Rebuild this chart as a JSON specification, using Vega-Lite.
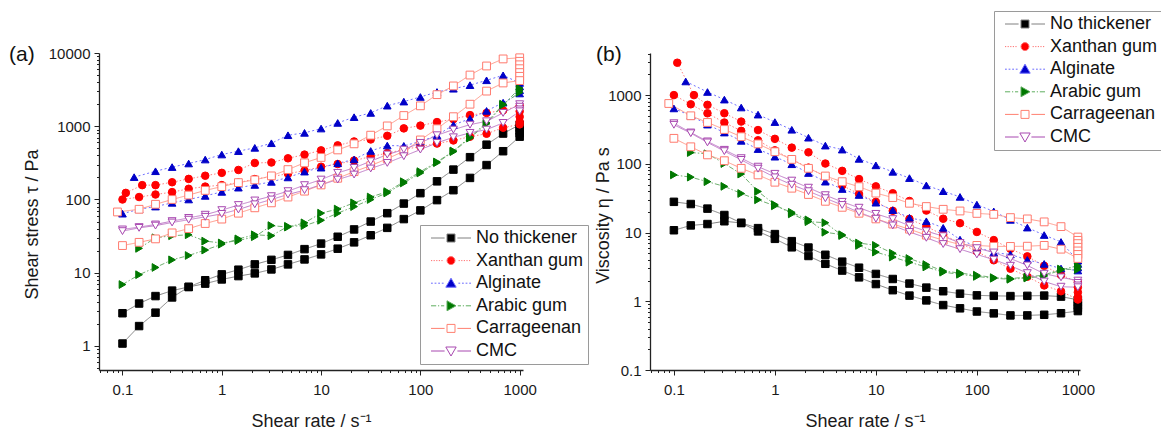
{
  "$schema": "https://vega.github.io/schema/vega-lite/v6.json",
  "background": "#ffffff",
  "padding": {"left": 9, "top": 10, "right": 2, "bottom": 2},
  "data": {"values": [
    {"s":"No thickener","r":1,"x":0.1,"t":2.8,"v":28},
    {"s":"No thickener","r":1,"x":0.147,"t":3.8,"v":26},
    {"s":"No thickener","r":1,"x":0.215,"t":4.8,"v":22.3},
    {"s":"No thickener","r":1,"x":0.316,"t":5.7,"v":18},
    {"s":"No thickener","r":1,"x":0.464,"t":6.4,"v":13.8},
    {"s":"No thickener","r":1,"x":0.681,"t":7.9,"v":11.6},
    {"s":"No thickener","r":1,"x":1,"t":9.5,"v":9.5},
    {"s":"No thickener","r":1,"x":1.47,"t":11,"v":7.5},
    {"s":"No thickener","r":1,"x":2.15,"t":13,"v":6.05},
    {"s":"No thickener","r":1,"x":3.16,"t":15,"v":4.75},
    {"s":"No thickener","r":1,"x":4.64,"t":17.5,"v":3.77},
    {"s":"No thickener","r":1,"x":6.81,"t":21,"v":3.08},
    {"s":"No thickener","r":1,"x":10,"t":25,"v":2.5},
    {"s":"No thickener","r":1,"x":14.7,"t":31,"v":2.11},
    {"s":"No thickener","r":1,"x":21.5,"t":39,"v":1.81},
    {"s":"No thickener","r":1,"x":31.6,"t":50,"v":1.58},
    {"s":"No thickener","r":1,"x":46.4,"t":65,"v":1.4},
    {"s":"No thickener","r":1,"x":68.1,"t":88,"v":1.29},
    {"s":"No thickener","r":1,"x":100,"t":122,"v":1.22},
    {"s":"No thickener","r":1,"x":147,"t":177,"v":1.2},
    {"s":"No thickener","r":1,"x":215,"t":256,"v":1.19},
    {"s":"No thickener","r":1,"x":316,"t":378,"v":1.2},
    {"s":"No thickener","r":1,"x":464,"t":560,"v":1.21},
    {"s":"No thickener","r":1,"x":681,"t":795,"v":1.17},
    {"s":"No thickener","r":1,"x":1000,"t":1050,"v":1.05},
    {"s":"No thickener","r":1,"x":1000,"t":950,"v":0.95},
    {"s":"No thickener","r":1,"x":1000,"t":870,"v":0.87},
    {"s":"No thickener","r":1,"x":1000,"t":800,"v":0.8},
    {"s":"No thickener","r":2,"x":1000,"t":720,"v":0.72},
    {"s":"No thickener","r":2,"x":681,"t":456,"v":0.67},
    {"s":"No thickener","r":2,"x":464,"t":295,"v":0.636},
    {"s":"No thickener","r":2,"x":316,"t":197,"v":0.623},
    {"s":"No thickener","r":2,"x":215,"t":134,"v":0.623},
    {"s":"No thickener","r":2,"x":147,"t":98,"v":0.667},
    {"s":"No thickener","r":2,"x":100,"t":71,"v":0.71},
    {"s":"No thickener","r":2,"x":68.1,"t":54,"v":0.79},
    {"s":"No thickener","r":2,"x":46.4,"t":41,"v":0.88},
    {"s":"No thickener","r":2,"x":31.6,"t":32.5,"v":1.03},
    {"s":"No thickener","r":2,"x":21.5,"t":26,"v":1.21},
    {"s":"No thickener","r":2,"x":14.7,"t":21.3,"v":1.45},
    {"s":"No thickener","r":2,"x":10,"t":17.8,"v":1.78},
    {"s":"No thickener","r":2,"x":6.81,"t":15.2,"v":2.23},
    {"s":"No thickener","r":2,"x":4.64,"t":13,"v":2.8},
    {"s":"No thickener","r":2,"x":3.16,"t":11.1,"v":3.51},
    {"s":"No thickener","r":2,"x":2.15,"t":9.8,"v":4.56},
    {"s":"No thickener","r":2,"x":1.47,"t":9,"v":6.1},
    {"s":"No thickener","r":2,"x":1,"t":8.1,"v":8.1},
    {"s":"No thickener","r":2,"x":0.681,"t":7.1,"v":10.4},
    {"s":"No thickener","r":2,"x":0.464,"t":6.4,"v":13.8},
    {"s":"No thickener","r":2,"x":0.316,"t":4.6,"v":14.6},
    {"s":"No thickener","r":2,"x":0.215,"t":2.85,"v":13.3},
    {"s":"No thickener","r":2,"x":0.147,"t":1.87,"v":12.7},
    {"s":"No thickener","r":2,"x":0.1,"t":1.08,"v":10.8},

    {"s":"Xanthan gum","r":1,"x":0.108,"t":123,"v":2960},
    {"s":"Xanthan gum","r":1,"x":0.158,"t":157,"v":1000},
    {"s":"Xanthan gum","r":1,"x":0.215,"t":157,"v":722},
    {"s":"Xanthan gum","r":1,"x":0.316,"t":172,"v":545},
    {"s":"Xanthan gum","r":1,"x":0.464,"t":191,"v":412},
    {"s":"Xanthan gum","r":1,"x":0.681,"t":211,"v":310},
    {"s":"Xanthan gum","r":1,"x":1,"t":231,"v":231},
    {"s":"Xanthan gum","r":1,"x":1.47,"t":253,"v":172},
    {"s":"Xanthan gum","r":1,"x":2.15,"t":315,"v":147},
    {"s":"Xanthan gum","r":1,"x":3.16,"t":320,"v":101},
    {"s":"Xanthan gum","r":1,"x":4.64,"t":365,"v":79},
    {"s":"Xanthan gum","r":1,"x":6.81,"t":410,"v":60},
    {"s":"Xanthan gum","r":1,"x":10,"t":468,"v":47},
    {"s":"Xanthan gum","r":1,"x":14.7,"t":548,"v":37.3},
    {"s":"Xanthan gum","r":1,"x":21.5,"t":620,"v":28.8},
    {"s":"Xanthan gum","r":1,"x":31.6,"t":660,"v":20.9},
    {"s":"Xanthan gum","r":1,"x":46.4,"t":740,"v":15.9},
    {"s":"Xanthan gum","r":1,"x":68.1,"t":935,"v":13.7},
    {"s":"Xanthan gum","r":1,"x":100,"t":1020,"v":10.2},
    {"s":"Xanthan gum","r":1,"x":147,"t":1140,"v":7.76},
    {"s":"Xanthan gum","r":1,"x":215,"t":1250,"v":5.8},
    {"s":"Xanthan gum","r":1,"x":316,"t":1420,"v":4.5},
    {"s":"Xanthan gum","r":1,"x":464,"t":1520,"v":3.28},
    {"s":"Xanthan gum","r":1,"x":681,"t":1650,"v":2.42},
    {"s":"Xanthan gum","r":1,"x":1000,"t":1900,"v":1.9},
    {"s":"Xanthan gum","r":1,"x":1000,"t":1600,"v":1.6},
    {"s":"Xanthan gum","r":1,"x":1000,"t":1350,"v":1.35},
    {"s":"Xanthan gum","r":1,"x":1000,"t":1150,"v":1.15},
    {"s":"Xanthan gum","r":2,"x":1000,"t":1060,"v":1.06},
    {"s":"Xanthan gum","r":2,"x":681,"t":955,"v":1.4},
    {"s":"Xanthan gum","r":2,"x":464,"t":790,"v":1.7},
    {"s":"Xanthan gum","r":2,"x":316,"t":720,"v":2.28},
    {"s":"Xanthan gum","r":2,"x":215,"t":640,"v":2.98},
    {"s":"Xanthan gum","r":2,"x":147,"t":580,"v":3.95},
    {"s":"Xanthan gum","r":2,"x":100,"t":530,"v":5.3},
    {"s":"Xanthan gum","r":2,"x":68.1,"t":480,"v":7.05},
    {"s":"Xanthan gum","r":2,"x":46.4,"t":430,"v":9.3},
    {"s":"Xanthan gum","r":2,"x":31.6,"t":385,"v":12.2},
    {"s":"Xanthan gum","r":2,"x":21.5,"t":340,"v":15.8},
    {"s":"Xanthan gum","r":2,"x":14.7,"t":305,"v":20.7},
    {"s":"Xanthan gum","r":2,"x":10,"t":280,"v":28},
    {"s":"Xanthan gum","r":2,"x":6.81,"t":248,"v":36.4},
    {"s":"Xanthan gum","r":2,"x":4.64,"t":225,"v":48.5},
    {"s":"Xanthan gum","r":2,"x":3.16,"t":205,"v":65},
    {"s":"Xanthan gum","r":2,"x":2.15,"t":190,"v":88},
    {"s":"Xanthan gum","r":2,"x":1.47,"t":170,"v":116},
    {"s":"Xanthan gum","r":2,"x":1,"t":157,"v":157},
    {"s":"Xanthan gum","r":2,"x":0.681,"t":150,"v":220},
    {"s":"Xanthan gum","r":2,"x":0.464,"t":140,"v":302},
    {"s":"Xanthan gum","r":2,"x":0.316,"t":126,"v":399},
    {"s":"Xanthan gum","r":2,"x":0.215,"t":117,"v":544},
    {"s":"Xanthan gum","r":2,"x":0.147,"t":108,"v":735},
    {"s":"Xanthan gum","r":2,"x":0.1,"t":100,"v":1000},

    {"s":"Alginate","r":1,"x":0.131,"t":202,"v":1580},
    {"s":"Alginate","r":1,"x":0.215,"t":243,"v":1110},
    {"s":"Alginate","r":1,"x":0.316,"t":277,"v":860},
    {"s":"Alginate","r":1,"x":0.464,"t":310,"v":660},
    {"s":"Alginate","r":1,"x":0.681,"t":351,"v":520},
    {"s":"Alginate","r":1,"x":1,"t":411,"v":405},
    {"s":"Alginate","r":1,"x":1.47,"t":457,"v":313},
    {"s":"Alginate","r":1,"x":2.15,"t":507,"v":240},
    {"s":"Alginate","r":1,"x":3.16,"t":586,"v":184},
    {"s":"Alginate","r":1,"x":4.64,"t":754,"v":161},
    {"s":"Alginate","r":1,"x":6.81,"t":812,"v":118},
    {"s":"Alginate","r":1,"x":10,"t":930,"v":95},
    {"s":"Alginate","r":1,"x":14.7,"t":1110,"v":76.5},
    {"s":"Alginate","r":1,"x":21.5,"t":1330,"v":62},
    {"s":"Alginate","r":1,"x":31.6,"t":1520,"v":48.5},
    {"s":"Alginate","r":1,"x":46.4,"t":1910,"v":40},
    {"s":"Alginate","r":1,"x":68.1,"t":2170,"v":33},
    {"s":"Alginate","r":1,"x":100,"t":2510,"v":25.5},
    {"s":"Alginate","r":1,"x":147,"t":2940,"v":20.3},
    {"s":"Alginate","r":1,"x":215,"t":3250,"v":15.3},
    {"s":"Alginate","r":1,"x":316,"t":3640,"v":11.8},
    {"s":"Alginate","r":1,"x":464,"t":4240,"v":9.2},
    {"s":"Alginate","r":1,"x":681,"t":4960,"v":7.3},
    {"s":"Alginate","r":1,"x":1000,"t":3900,"v":3.9},
    {"s":"Alginate","r":1,"x":1000,"t":3500,"v":3.5},
    {"s":"Alginate","r":1,"x":1000,"t":3100,"v":3.1},
    {"s":"Alginate","r":2,"x":1000,"t":2800,"v":2.8},
    {"s":"Alginate","r":2,"x":681,"t":2100,"v":3.0},
    {"s":"Alginate","r":2,"x":464,"t":1620,"v":3.5},
    {"s":"Alginate","r":2,"x":316,"t":1270,"v":4.0},
    {"s":"Alginate","r":2,"x":215,"t":1040,"v":4.8},
    {"s":"Alginate","r":2,"x":147,"t":750,"v":5.1},
    {"s":"Alginate","r":2,"x":100,"t":620,"v":6.2},
    {"s":"Alginate","r":2,"x":68.1,"t":540,"v":7.9},
    {"s":"Alginate","r":2,"x":46.4,"t":545,"v":11.7},
    {"s":"Alginate","r":2,"x":31.6,"t":460,"v":14.6},
    {"s":"Alginate","r":2,"x":21.5,"t":352,"v":16.4},
    {"s":"Alginate","r":2,"x":14.7,"t":312,"v":21.2},
    {"s":"Alginate","r":2,"x":10,"t":272,"v":27.2},
    {"s":"Alginate","r":2,"x":6.81,"t":240,"v":35.2},
    {"s":"Alginate","r":2,"x":4.64,"t":200,"v":43},
    {"s":"Alginate","r":2,"x":3.16,"t":174,"v":55},
    {"s":"Alginate","r":2,"x":2.15,"t":158,"v":73.5},
    {"s":"Alginate","r":2,"x":1.47,"t":145,"v":98.6},
    {"s":"Alginate","r":2,"x":1,"t":127,"v":127},
    {"s":"Alginate","r":2,"x":0.681,"t":112,"v":164},
    {"s":"Alginate","r":2,"x":0.464,"t":100,"v":216},
    {"s":"Alginate","r":2,"x":0.316,"t":90,"v":285},
    {"s":"Alginate","r":2,"x":0.215,"t":80,"v":372},
    {"s":"Alginate","r":2,"x":0.147,"t":73.5,"v":500},
    {"s":"Alginate","r":2,"x":0.1,"t":64,"v":640},

    {"s":"Arabic gum","r":1,"x":0.1,"t":6.9,"v":69},
    {"s":"Arabic gum","r":1,"x":0.147,"t":9.4,"v":64},
    {"s":"Arabic gum","r":1,"x":0.215,"t":11.8,"v":55},
    {"s":"Arabic gum","r":1,"x":0.316,"t":15,"v":47},
    {"s":"Arabic gum","r":1,"x":0.464,"t":17.2,"v":37},
    {"s":"Arabic gum","r":1,"x":0.681,"t":20.4,"v":30},
    {"s":"Arabic gum","r":1,"x":1,"t":24.5,"v":24.5},
    {"s":"Arabic gum","r":1,"x":1.47,"t":29,"v":19.7},
    {"s":"Arabic gum","r":1,"x":2.15,"t":33,"v":15.3},
    {"s":"Arabic gum","r":1,"x":3.16,"t":32,"v":10.1},
    {"s":"Arabic gum","r":1,"x":4.64,"t":43,"v":9.3},
    {"s":"Arabic gum","r":1,"x":6.81,"t":44,"v":6.5},
    {"s":"Arabic gum","r":1,"x":10,"t":52,"v":5.2},
    {"s":"Arabic gum","r":1,"x":14.7,"t":65,"v":4.4},
    {"s":"Arabic gum","r":1,"x":21.5,"t":80,"v":3.7},
    {"s":"Arabic gum","r":1,"x":31.6,"t":100,"v":3.16},
    {"s":"Arabic gum","r":1,"x":46.4,"t":123,"v":2.65},
    {"s":"Arabic gum","r":1,"x":68.1,"t":168,"v":2.47},
    {"s":"Arabic gum","r":1,"x":100,"t":230,"v":2.3},
    {"s":"Arabic gum","r":1,"x":147,"t":318,"v":2.16},
    {"s":"Arabic gum","r":1,"x":215,"t":450,"v":2.09},
    {"s":"Arabic gum","r":1,"x":316,"t":690,"v":2.18},
    {"s":"Arabic gum","r":1,"x":464,"t":1080,"v":2.33},
    {"s":"Arabic gum","r":1,"x":681,"t":1950,"v":2.86},
    {"s":"Arabic gum","r":1,"x":1000,"t":3300,"v":3.3},
    {"s":"Arabic gum","r":1,"x":1000,"t":3100,"v":3.1},
    {"s":"Arabic gum","r":2,"x":1000,"t":2900,"v":2.9},
    {"s":"Arabic gum","r":2,"x":681,"t":2000,"v":2.94},
    {"s":"Arabic gum","r":2,"x":464,"t":1120,"v":2.41},
    {"s":"Arabic gum","r":2,"x":316,"t":712,"v":2.25},
    {"s":"Arabic gum","r":2,"x":215,"t":460,"v":2.14},
    {"s":"Arabic gum","r":2,"x":147,"t":325,"v":2.21},
    {"s":"Arabic gum","r":2,"x":100,"t":240,"v":2.4},
    {"s":"Arabic gum","r":2,"x":68.1,"t":175,"v":2.57},
    {"s":"Arabic gum","r":2,"x":46.4,"t":128,"v":2.76},
    {"s":"Arabic gum","r":2,"x":31.6,"t":108,"v":3.42},
    {"s":"Arabic gum","r":2,"x":21.5,"t":90,"v":4.19},
    {"s":"Arabic gum","r":2,"x":14.7,"t":74,"v":5.0},
    {"s":"Arabic gum","r":2,"x":10,"t":65,"v":6.5},
    {"s":"Arabic gum","r":2,"x":6.81,"t":48,"v":7.05},
    {"s":"Arabic gum","r":2,"x":4.64,"t":42,"v":9.05},
    {"s":"Arabic gum","r":2,"x":3.16,"t":44,"v":13.9},
    {"s":"Arabic gum","r":2,"x":2.15,"t":31,"v":14.4},
    {"s":"Arabic gum","r":2,"x":1.47,"t":27.5,"v":18.7},
    {"s":"Arabic gum","r":2,"x":1,"t":25.5,"v":25.5},
    {"s":"Arabic gum","r":2,"x":0.681,"t":27,"v":39.6},
    {"s":"Arabic gum","r":2,"x":0.464,"t":33,"v":71},
    {"s":"Arabic gum","r":2,"x":0.316,"t":32,"v":101},
    {"s":"Arabic gum","r":2,"x":0.215,"t":30,"v":140},
    {"s":"Arabic gum","r":2,"x":0.147,"t":21.5,"v":146},

    {"s":"Carrageenan","r":1,"x":0.089,"t":67.6,"v":755},
    {"s":"Carrageenan","r":1,"x":0.147,"t":73.5,"v":500},
    {"s":"Carrageenan","r":1,"x":0.215,"t":86,"v":400},
    {"s":"Carrageenan","r":1,"x":0.316,"t":100,"v":316},
    {"s":"Carrageenan","r":1,"x":0.464,"t":115,"v":248},
    {"s":"Carrageenan","r":1,"x":0.681,"t":133,"v":195},
    {"s":"Carrageenan","r":1,"x":1,"t":150,"v":150},
    {"s":"Carrageenan","r":1,"x":1.47,"t":170,"v":116},
    {"s":"Carrageenan","r":1,"x":2.15,"t":185,"v":86},
    {"s":"Carrageenan","r":1,"x":3.16,"t":210,"v":66.5},
    {"s":"Carrageenan","r":1,"x":4.64,"t":256,"v":55},
    {"s":"Carrageenan","r":1,"x":6.81,"t":317,"v":46.5},
    {"s":"Carrageenan","r":1,"x":10,"t":375,"v":37.5},
    {"s":"Carrageenan","r":1,"x":14.7,"t":475,"v":32.3},
    {"s":"Carrageenan","r":1,"x":21.5,"t":575,"v":26.7},
    {"s":"Carrageenan","r":1,"x":31.6,"t":755,"v":23.9},
    {"s":"Carrageenan","r":1,"x":46.4,"t":1010,"v":21.8},
    {"s":"Carrageenan","r":1,"x":68.1,"t":1400,"v":20.6},
    {"s":"Carrageenan","r":1,"x":100,"t":1900,"v":19},
    {"s":"Carrageenan","r":1,"x":147,"t":2700,"v":18.4},
    {"s":"Carrageenan","r":1,"x":215,"t":3550,"v":16.5},
    {"s":"Carrageenan","r":1,"x":316,"t":5000,"v":15.8},
    {"s":"Carrageenan","r":1,"x":464,"t":6650,"v":14.3},
    {"s":"Carrageenan","r":1,"x":681,"t":8300,"v":12.2},
    {"s":"Carrageenan","r":1,"x":1000,"t":8600,"v":8.6},
    {"s":"Carrageenan","r":1,"x":1000,"t":7700,"v":7.7},
    {"s":"Carrageenan","r":1,"x":1000,"t":6900,"v":6.9},
    {"s":"Carrageenan","r":1,"x":1000,"t":6100,"v":6.1},
    {"s":"Carrageenan","r":1,"x":1000,"t":5400,"v":5.4},
    {"s":"Carrageenan","r":1,"x":1000,"t":4800,"v":4.8},
    {"s":"Carrageenan","r":2,"x":1000,"t":4200,"v":4.2},
    {"s":"Carrageenan","r":2,"x":681,"t":3900,"v":5.73},
    {"s":"Carrageenan","r":2,"x":464,"t":3020,"v":6.5},
    {"s":"Carrageenan","r":2,"x":316,"t":2000,"v":6.33},
    {"s":"Carrageenan","r":2,"x":215,"t":1350,"v":6.28},
    {"s":"Carrageenan","r":2,"x":147,"t":925,"v":6.29},
    {"s":"Carrageenan","r":2,"x":100,"t":650,"v":6.5},
    {"s":"Carrageenan","r":2,"x":68.1,"t":456,"v":6.7},
    {"s":"Carrageenan","r":2,"x":46.4,"t":360,"v":7.76},
    {"s":"Carrageenan","r":2,"x":31.6,"t":290,"v":9.18},
    {"s":"Carrageenan","r":2,"x":21.5,"t":240,"v":11.2},
    {"s":"Carrageenan","r":2,"x":14.7,"t":195,"v":13.3},
    {"s":"Carrageenan","r":2,"x":10,"t":158,"v":15.8},
    {"s":"Carrageenan","r":2,"x":6.81,"t":130,"v":19.1},
    {"s":"Carrageenan","r":2,"x":4.64,"t":108,"v":23.3},
    {"s":"Carrageenan","r":2,"x":3.16,"t":90,"v":28.5},
    {"s":"Carrageenan","r":2,"x":2.15,"t":77,"v":35.8},
    {"s":"Carrageenan","r":2,"x":1.47,"t":65,"v":44.2},
    {"s":"Carrageenan","r":2,"x":1,"t":54,"v":54},
    {"s":"Carrageenan","r":2,"x":0.681,"t":47,"v":69},
    {"s":"Carrageenan","r":2,"x":0.464,"t":40,"v":86},
    {"s":"Carrageenan","r":2,"x":0.316,"t":35,"v":111},
    {"s":"Carrageenan","r":2,"x":0.215,"t":29,"v":135},
    {"s":"Carrageenan","r":2,"x":0.147,"t":26,"v":177},
    {"s":"Carrageenan","r":2,"x":0.1,"t":23.5,"v":235},

    {"s":"CMC","r":1,"x":0.1,"t":39,"v":390},
    {"s":"CMC","r":1,"x":0.147,"t":42,"v":286},
    {"s":"CMC","r":1,"x":0.215,"t":45.6,"v":212},
    {"s":"CMC","r":1,"x":0.316,"t":50.7,"v":160},
    {"s":"CMC","r":1,"x":0.464,"t":56,"v":121},
    {"s":"CMC","r":1,"x":0.681,"t":62,"v":91},
    {"s":"CMC","r":1,"x":1,"t":71.6,"v":71.6},
    {"s":"CMC","r":1,"x":1.47,"t":84,"v":57},
    {"s":"CMC","r":1,"x":2.15,"t":97,"v":45},
    {"s":"CMC","r":1,"x":3.16,"t":111,"v":35},
    {"s":"CMC","r":1,"x":4.64,"t":130,"v":28},
    {"s":"CMC","r":1,"x":6.81,"t":157,"v":23},
    {"s":"CMC","r":1,"x":10,"t":187,"v":18.7},
    {"s":"CMC","r":1,"x":14.7,"t":231,"v":15.7},
    {"s":"CMC","r":1,"x":21.5,"t":270,"v":12.6},
    {"s":"CMC","r":1,"x":31.6,"t":333,"v":10.5},
    {"s":"CMC","r":1,"x":46.4,"t":411,"v":8.86},
    {"s":"CMC","r":1,"x":68.1,"t":480,"v":7.05},
    {"s":"CMC","r":1,"x":100,"t":593,"v":5.93},
    {"s":"CMC","r":1,"x":147,"t":754,"v":5.13},
    {"s":"CMC","r":1,"x":215,"t":900,"v":4.19},
    {"s":"CMC","r":1,"x":316,"t":1050,"v":3.32},
    {"s":"CMC","r":1,"x":464,"t":1170,"v":2.52},
    {"s":"CMC","r":1,"x":681,"t":1520,"v":2.23},
    {"s":"CMC","r":1,"x":1000,"t":2000,"v":2.0},
    {"s":"CMC","r":1,"x":1000,"t":1850,"v":1.85},
    {"s":"CMC","r":1,"x":1000,"t":1700,"v":1.7},
    {"s":"CMC","r":2,"x":1000,"t":1600,"v":1.6},
    {"s":"CMC","r":2,"x":681,"t":1110,"v":1.63},
    {"s":"CMC","r":2,"x":464,"t":900,"v":1.94},
    {"s":"CMC","r":2,"x":316,"t":812,"v":2.57},
    {"s":"CMC","r":2,"x":215,"t":707,"v":3.29},
    {"s":"CMC","r":2,"x":147,"t":593,"v":4.03},
    {"s":"CMC","r":2,"x":100,"t":480,"v":4.8},
    {"s":"CMC","r":2,"x":68.1,"t":390,"v":5.73},
    {"s":"CMC","r":2,"x":46.4,"t":316,"v":6.81},
    {"s":"CMC","r":2,"x":31.6,"t":265,"v":8.39},
    {"s":"CMC","r":2,"x":21.5,"t":219,"v":10.2},
    {"s":"CMC","r":2,"x":14.7,"t":187,"v":12.7},
    {"s":"CMC","r":2,"x":10,"t":159,"v":15.9},
    {"s":"CMC","r":2,"x":6.81,"t":134,"v":19.7},
    {"s":"CMC","r":2,"x":4.64,"t":117,"v":25.2},
    {"s":"CMC","r":2,"x":3.16,"t":100,"v":31.6},
    {"s":"CMC","r":2,"x":2.15,"t":86,"v":40},
    {"s":"CMC","r":2,"x":1.47,"t":73,"v":49.7},
    {"s":"CMC","r":2,"x":1,"t":63.6,"v":63.6},
    {"s":"CMC","r":2,"x":0.681,"t":58,"v":85},
    {"s":"CMC","r":2,"x":0.464,"t":53,"v":114},
    {"s":"CMC","r":2,"x":0.316,"t":48.5,"v":153},
    {"s":"CMC","r":2,"x":0.215,"t":44,"v":205},
    {"s":"CMC","r":2,"x":0.147,"t":41,"v":279},
    {"s":"CMC","r":2,"x":0.1,"t":37,"v":370}
  ]},
  "spacing": 127,
  "bounds": "flush",
  "hconcat": [
    {
      "width": 424,
      "height": 317,
      "title": {"text": "(a)", "anchor": "start", "frame": "group", "align": "left", "baseline": "middle", "dx": -90, "dy": 30, "offset": 0, "fontSize": 21, "fontWeight": "normal", "color": "#111111"},
      "encoding": {
        "x": {"field": "x", "type": "quantitative",
          "scale": {"type": "log", "domain": [0.058, 1080]},
          "axis": {"title": "Shear rate / s⁻¹", "values": [0.06,0.07,0.08,0.09,0.1,0.2,0.3,0.4,0.5,0.6,0.7,0.8,0.9,1,2,3,4,5,6,7,8,9,10,20,30,40,50,60,70,80,90,100,200,300,400,500,600,700,800,900,1000],
            "format": "~g",
            "labelExpr": "indexof([0.1,1,10,100,1000,10000], datum.value) >= 0 ? datum.label : ''",
            "tickSize": {"condition": {"test": "indexof([0.1,1,10,100,1000,10000], datum.value) >= 0", "value": 5}, "value": 2.5},
            "labelPadding": 7, "titlePadding": 15}},
        "y": {"field": "t", "type": "quantitative",
          "scale": {"type": "log", "domain": [0.47, 10000]},
          "axis": {"title": "Shear stress τ / Pa", "values": [0.5,0.6,0.7,0.8,0.9,1,2,3,4,5,6,7,8,9,10,20,30,40,50,60,70,80,90,100,200,300,400,500,600,700,800,900,1000,2000,3000,4000,5000,6000,7000,8000,9000,10000],
            "format": "~g",
            "labelExpr": "indexof([0.1,1,10,100,1000,10000], datum.value) >= 0 ? datum.label : ''",
            "tickSize": {"condition": {"test": "indexof([0.1,1,10,100,1000,10000], datum.value) >= 0", "value": 5}, "value": 2.5},
            "labelPadding": 4, "titlePadding": 7, "minExtent": 51, "maxExtent": 51, "titleY": 171}}
      },
      "layer": [
        {
          "mark": {"type": "line", "strokeWidth": 1},
          "encoding": {
            "detail": {"field": "r", "type": "nominal"},
            "color": {"field": "s", "type": "nominal", "legend": null,
              "sort": ["No thickener","Xanthan gum","Alginate","Arabic gum","Carrageenan","CMC"],
              "scale": {"range": ["#808080","#ff8080","#7070ff","#70b070","#ff9a8a","#c07cc8"]}},
            "strokeDash": {"field": "s", "type": "nominal", "legend": null,
              "sort": ["No thickener","Xanthan gum","Alginate","Arabic gum","Carrageenan","CMC"],
              "scale": {"range": [[1,0],[1.5,2],[2,2.5],[5,2,1.5,2],[1,0],[1,0]]}}
          }
        },
        {
          "mark": {"type": "point", "filled": true, "opacity": 1, "strokeWidth": 1},
          "encoding": {
            "fill": {"field": "s", "type": "nominal", "legend": null,
              "sort": ["No thickener","Xanthan gum","Alginate","Arabic gum","Carrageenan","CMC"],
              "scale": {"range": ["#000000","#ff0000","#0000c8","#007800","#ffffff","#ffffff"]}},
            "stroke": {"field": "s", "type": "nominal", "legend": null,
              "sort": ["No thickener","Xanthan gum","Alginate","Arabic gum","Carrageenan","CMC"],
              "scale": {"range": ["#000000","#ff0000","#0000c8","#007800","#ff7a6e","#a848b0"]}},
            "size": {"field": "s", "type": "ordinal", "legend": null,
              "sort": ["No thickener","Xanthan gum","Alginate","Arabic gum","Carrageenan","CMC"],
              "scale": {"range": [56,62,85,72,60,85]}},
            "shape": {"field": "s", "type": "nominal", "legend": null,
              "sort": ["No thickener","Xanthan gum","Alginate","Arabic gum","Carrageenan","CMC"],
              "scale": {"range": ["square","circle","triangle-up","triangle-right","square","triangle-down"]}}
          }
        },
        {
          "transform": [{"filter": "datum.r == 2 && datum.x == 1000"}],
          "mark": {"type": "point", "filled": true, "opacity": 0, "strokeWidth": 1},
          "encoding": {
            "fill": {"field": "s", "type": "nominal",
              "scale": {"domain": ["No thickener","Xanthan gum","Alginate","Arabic gum","Carrageenan","CMC"], "range": ["#000000","#ff0000","#0000c8","#007800","#ffffff","#ffffff"]},
              "legend": {"orient": "none", "legendX": 321, "legendY": 172, "title": null, "symbolOpacity": 1}},
            "stroke": {"field": "s", "type": "nominal",
              "scale": {"domain": ["No thickener","Xanthan gum","Alginate","Arabic gum","Carrageenan","CMC"], "range": ["#808080","#ff7070","#6b6bff","#60ae60","#ff8070","#a848b0"]},
              "legend": {"orient": "none", "legendX": 321, "legendY": 172, "title": null, "symbolOpacity": 1}},
            "shape": {"field": "s", "type": "nominal",
              "scale": {"domain": ["No thickener","Xanthan gum","Alginate","Arabic gum","Carrageenan","CMC"], "range": [
                "M-5,0H-1.6M1.6,0H5M-1,-1H1V1H-1Z",
                "M-5,0h0.3M-4.35,0h0.3M-3.7,0h0.3M-3.05,0h0.3M-2.4,0h0.3M1.9,0h0.3M2.55,0h0.3M3.2,0h0.3M3.85,0h0.3M4.5,0h0.3M-1,0A1,1,0,1,0,1,0A1,1,0,1,0,-1,0Z",
                "M-5,0h0.45M-4.1,0h0.45M-3.2,0h0.45M-2.3,0h0.45M1.85,0h0.45M2.75,0h0.45M3.65,0h0.45M4.55,0h0.45M0,-1.25L1.3,1H-1.3Z",
                "M-5,0h1.3M-3.25,0h0.3M-2.5,0h0.8M1.7,0h0.8M2.95,0h0.3M3.7,0h1.3M-1,-1.25L1.25,0L-1,1.25Z",
                "M-5,0H-1.6M1.6,0H5M-1,-1H1V1H-1Z",
                "M-5,0H-1.6M1.6,0H5M-1.3,-1H1.3L0,1.25Z"]},
              "legend": {"orient": "none", "legendX": 321, "legendY": 172, "title": null, "symbolOpacity": 1}}
          }
        }
      ],
      "resolve": {"scale": {"fill": "independent", "stroke": "independent", "shape": "independent"}}
    },
    {
      "width": 430,
      "height": 317,
      "title": {"text": "(b)", "anchor": "start", "frame": "group", "align": "left", "baseline": "middle", "dx": -54, "dy": 65, "offset": 0, "fontSize": 21, "fontWeight": "normal", "color": "#111111"},
      "encoding": {
        "x": {"field": "x", "type": "quantitative",
          "scale": {"type": "log", "domain": [0.058, 1050]},
          "axis": {"title": "Shear rate / s⁻¹", "values": [0.06,0.07,0.08,0.09,0.1,0.2,0.3,0.4,0.5,0.6,0.7,0.8,0.9,1,2,3,4,5,6,7,8,9,10,20,30,40,50,60,70,80,90,100,200,300,400,500,600,700,800,900,1000],
            "format": "~g",
            "labelExpr": "indexof([0.1,1,10,100,1000,10000], datum.value) >= 0 ? datum.label : ''",
            "tickSize": {"condition": {"test": "indexof([0.1,1,10,100,1000,10000], datum.value) >= 0", "value": 5}, "value": 2.5},
            "labelPadding": 7, "titlePadding": 15}},
        "y": {"field": "v", "type": "quantitative",
          "scale": {"type": "log", "domain": [0.1, 4100]},
          "axis": {"title": "Viscosity η / Pa s", "values": [0.1,0.2,0.3,0.4,0.5,0.6,0.7,0.8,0.9,1,2,3,4,5,6,7,8,9,10,20,30,40,50,60,70,80,90,100,200,300,400,500,600,700,800,900,1000,2000,3000,4000],
            "format": "~g",
            "labelExpr": "indexof([0.1,1,10,100,1000,10000], datum.value) >= 0 ? datum.label : ''",
            "tickSize": {"condition": {"test": "indexof([0.1,1,10,100,1000,10000], datum.value) >= 0", "value": 5}, "value": 2.5},
            "labelPadding": 4, "titlePadding": 7, "minExtent": 31, "maxExtent": 31, "titleY": 162}}
      },
      "layer": [
        {
          "mark": {"type": "line", "strokeWidth": 1},
          "encoding": {
            "detail": {"field": "r", "type": "nominal"},
            "color": {"field": "s", "type": "nominal", "legend": null,
              "sort": ["No thickener","Xanthan gum","Alginate","Arabic gum","Carrageenan","CMC"],
              "scale": {"range": ["#808080","#ff8080","#7070ff","#70b070","#ff9a8a","#c07cc8"]}},
            "strokeDash": {"field": "s", "type": "nominal", "legend": null,
              "sort": ["No thickener","Xanthan gum","Alginate","Arabic gum","Carrageenan","CMC"],
              "scale": {"range": [[1,0],[1.5,2],[2,2.5],[5,2,1.5,2],[1,0],[1,0]]}}
          }
        },
        {
          "mark": {"type": "point", "filled": true, "opacity": 1, "strokeWidth": 1},
          "encoding": {
            "fill": {"field": "s", "type": "nominal", "legend": null,
              "sort": ["No thickener","Xanthan gum","Alginate","Arabic gum","Carrageenan","CMC"],
              "scale": {"range": ["#000000","#ff0000","#0000c8","#007800","#ffffff","#ffffff"]}},
            "stroke": {"field": "s", "type": "nominal", "legend": null,
              "sort": ["No thickener","Xanthan gum","Alginate","Arabic gum","Carrageenan","CMC"],
              "scale": {"range": ["#000000","#ff0000","#0000c8","#007800","#ff7a6e","#a848b0"]}},
            "size": {"field": "s", "type": "ordinal", "legend": null,
              "sort": ["No thickener","Xanthan gum","Alginate","Arabic gum","Carrageenan","CMC"],
              "scale": {"range": [56,62,85,72,60,85]}},
            "shape": {"field": "s", "type": "nominal", "legend": null,
              "sort": ["No thickener","Xanthan gum","Alginate","Arabic gum","Carrageenan","CMC"],
              "scale": {"range": ["square","circle","triangle-up","triangle-right","square","triangle-down"]}}
          }
        },
        {
          "transform": [{"filter": "datum.r == 2 && datum.x == 1000"}],
          "mark": {"type": "point", "filled": true, "opacity": 0, "strokeWidth": 1},
          "encoding": {
            "fill": {"field": "s", "type": "nominal",
              "scale": {"domain": ["No thickener","Xanthan gum","Alginate","Arabic gum","Carrageenan","CMC"], "range": ["#000000","#ff0000","#0000c8","#007800","#ffffff","#ffffff"]},
              "legend": {"orient": "none", "legendX": 344, "legendY": -42, "title": null, "symbolOpacity": 1}},
            "stroke": {"field": "s", "type": "nominal",
              "scale": {"domain": ["No thickener","Xanthan gum","Alginate","Arabic gum","Carrageenan","CMC"], "range": ["#808080","#ff7070","#6b6bff","#60ae60","#ff8070","#a848b0"]},
              "legend": {"orient": "none", "legendX": 344, "legendY": -42, "title": null, "symbolOpacity": 1}},
            "shape": {"field": "s", "type": "nominal",
              "scale": {"domain": ["No thickener","Xanthan gum","Alginate","Arabic gum","Carrageenan","CMC"], "range": [
                "M-5,0H-1.6M1.6,0H5M-1,-1H1V1H-1Z",
                "M-5,0h0.3M-4.35,0h0.3M-3.7,0h0.3M-3.05,0h0.3M-2.4,0h0.3M1.9,0h0.3M2.55,0h0.3M3.2,0h0.3M3.85,0h0.3M4.5,0h0.3M-1,0A1,1,0,1,0,1,0A1,1,0,1,0,-1,0Z",
                "M-5,0h0.45M-4.1,0h0.45M-3.2,0h0.45M-2.3,0h0.45M1.85,0h0.45M2.75,0h0.45M3.65,0h0.45M4.55,0h0.45M0,-1.25L1.3,1H-1.3Z",
                "M-5,0h1.3M-3.25,0h0.3M-2.5,0h0.8M1.7,0h0.8M2.95,0h0.3M3.7,0h1.3M-1,-1.25L1.25,0L-1,1.25Z",
                "M-5,0H-1.6M1.6,0H5M-1,-1H1V1H-1Z",
                "M-5,0H-1.6M1.6,0H5M-1.3,-1H1.3L0,1.25Z"]},
              "legend": {"orient": "none", "legendX": 344, "legendY": -42, "title": null, "symbolOpacity": 1}}
          }
        }
      ],
      "resolve": {"scale": {"fill": "independent", "stroke": "independent", "shape": "independent"}}
    }
  ],
  "resolve": {"scale": {"color": "independent", "fill": "independent", "stroke": "independent", "shape": "independent", "strokeDash": "independent", "size": "independent"}},
  "config": {
    "font": "Liberation Sans",
    "view": {"stroke": null},
    "axis": {"grid": false, "domainColor": "#222222", "domainWidth": 1.3, "tickColor": "#222222", "tickWidth": 1,
      "labelFont": "Liberation Sans", "labelFontSize": 15, "labelColor": "#1a1a1a",
      "titleFont": "Liberation Sans", "titleFontSize": 18, "titleFontWeight": "normal", "titleColor": "#1a1a1a",
      "labelOverlap": false, "labelFlush": false, "labelBound": false},
    "legend": {"labelFont": "Liberation Sans", "labelFontSize": 18, "labelColor": "#111111",
      "padding": 4, "rowPadding": 4.6, "symbolOffset": 18, "labelOffset": 16, "symbolSize": 64, "symbolStrokeWidth": 1,
      "strokeColor": "#9a9a9a", "fillColor": "#ffffff", "labelLimit": 300}
  }
}
